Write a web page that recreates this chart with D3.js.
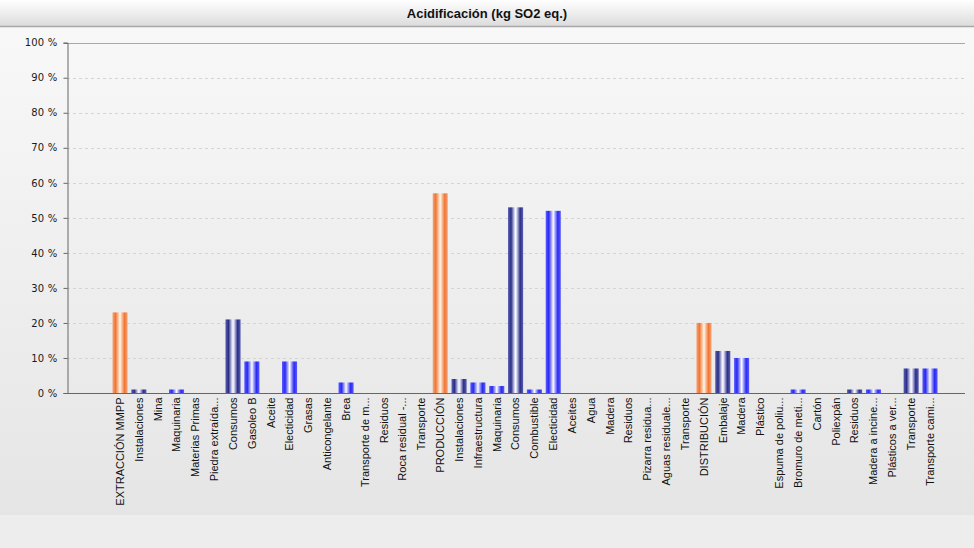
<!DOCTYPE html>
<html><head><meta charset="utf-8">
<script src="https://cdn.jsdelivr.net/npm/d3@7"></script>
<style>body{margin:0;background:#fff}svg{display:block}</style>
</head><body>
<script>
const title = "Acidificación (kg SO2 eq.)";
const categories = ["EXTRACCIÓN MMPP","Instalaciones","Mina","Maquinaria","Materias Primas","Piedra extraída...","Consumos","Gasoleo B","Aceite","Electicidad","Grasas","Anticongelante","Brea","Transporte de m...","Residuos","Roca residual -...","Transporte","PRODUCCIÓN","Instalaciones","Infraestructura","Maquinaria","Consumos","Combustible","Electicidad","Aceites","Agua","Madera","Residuos","Pizarra residua...","Aguas residuale...","Transporte","DISTRIBUCIÓN","Embalaje","Madera","Plástico","Espuma de poliu...","Bromuro de meti...","Cartón","Poliexpán","Residuos","Madera a incine...","Plásticos a ver...","Transporte","Transporte cami..."];
const values = [23,1,0,1,0,0,21,9,0,9,0,0,3,0,0,0,0,57,4,3,2,53,1,52,0,0,0,0,0,0,0,20,12,10,0,0,1,0,0,1,1,0,7,7];
const levels = [1,2,3,3,2,3,2,3,3,3,3,3,3,2,2,3,2,1,2,3,3,2,3,3,3,3,3,2,3,3,2,1,2,3,3,3,3,3,3,2,3,3,2,3];
const yTicks = [0,10,20,30,40,50,60,70,80,90,100];
const yTickLabels = ["0 %","10 %","20 %","30 %","40 %","50 %","60 %","70 %","80 %","90 %","100 %"];

const W = 974, H = 548;
const svg = d3.select("body").append("svg").attr("width", W).attr("height", H);
const defs = svg.append("defs");

const bg = defs.append("linearGradient").attr("id","bg").attr("x1",0).attr("y1",0).attr("x2",0).attr("y2",1);
bg.append("stop").attr("offset","0%").attr("stop-color","#f8f8f8");
bg.append("stop").attr("offset","100%").attr("stop-color","#e5e5e5");
const hd = defs.append("linearGradient").attr("id","hd").attr("x1",0).attr("y1",0).attr("x2",0).attr("y2",1);
hd.append("stop").attr("offset","0%").attr("stop-color","#ffffff");
hd.append("stop").attr("offset","100%").attr("stop-color","#dcdcdc");

function barGrad(id, edge, dark, light, mid) {
  const g = defs.append("linearGradient").attr("id", id).attr("x1",0).attr("y1",0).attr("x2",1).attr("y2",0);
  [[0,edge],[0.2,dark],[0.4,light],[0.5,mid],[0.6,light],[0.8,dark],[1,edge]].forEach(([o,c]) =>
    g.append("stop").attr("offset", o).attr("stop-color", c));
}
barGrad("g1", "#f6a577", "#f07534", "#fbcaa8", "#fff6ee");
barGrad("g2", "#585db0", "#2b2f87", "#c4c4e6", "#ffffff");
barGrad("g3", "#5a5aff", "#2a2af0", "#b4b4ff", "#ffffff");

// backgrounds
svg.append("rect").attr("x",0).attr("y",27).attr("width",W).attr("height",488).attr("fill","url(#bg)");
svg.append("rect").attr("x",0).attr("y",515).attr("width",W).attr("height",H-515).attr("fill","#ededed");
svg.append("rect").attr("x",0).attr("y",0).attr("width",W).attr("height",26).attr("fill","url(#hd)");
svg.append("line").attr("x1",0).attr("x2",W).attr("y1",26.5).attr("y2",26.5).attr("stroke","#a8a8a8").attr("stroke-width",1.5);

svg.append("text").attr("x",487).attr("y",18).attr("text-anchor","middle")
  .attr("font-family","'Liberation Sans Narrow','Liberation Sans',Arial,sans-serif")
  .attr("font-weight","bold").attr("font-size",13).attr("fill","#111").text(title);

const plotL = 67, plotR = 965, plotT = 42.7, plotB = 393;
const y = d3.scaleLinear().domain([0,100]).range([plotB, plotT]);
const x = d3.scaleBand().domain(d3.range(categories.length)).range([110.6, 939.4]).paddingInner(0.2).paddingOuter(0.1);

// gridlines
svg.append("g").selectAll("line").data(yTicks.filter(d => d > 0)).join("line")
  .attr("x1", plotL).attr("x2", plotR)
  .attr("y1", d => Math.round(y(d)) + 0.5).attr("y2", d => Math.round(y(d)) + 0.5)
  .attr("stroke", d => d === 100 ? "#a8a8a8" : "#d4d4d4")
  .attr("stroke-dasharray", d => d === 100 ? null : "3,3");

// y axis
const yAxis = d3.axisLeft(y).tickValues(yTicks).tickFormat((d,i) => yTickLabels[i]).tickSize(4).tickPadding(6);
const ya = svg.append("g").attr("transform", `translate(${plotL + 0.5},0)`).call(yAxis);
ya.select(".domain").attr("stroke","#666");
ya.selectAll(".tick line").attr("stroke","#666");
ya.selectAll(".tick text").attr("font-family","'DejaVu Sans',Verdana,sans-serif").attr("font-size",10)
  .attr("letter-spacing","0.2px").attr("fill","#1a1a1a");

// bars
const colorFor = l => l === 1 ? "url(#g1)" : (l === 2 ? "url(#g2)" : "url(#g3)");
svg.append("g").selectAll("rect").data(values.map((v,i) => ({v,i}))).join("rect")
  .attr("x", d => x(d.i)).attr("width", x.bandwidth())
  .attr("y", d => y(d.v)).attr("height", d => plotB - y(d.v))
  .attr("fill", d => colorFor(levels[d.i]));

// x axis
const xAxis = d3.axisBottom(x).tickFormat(i => categories[i]).tickSize(0).tickPadding(0);
const xa = svg.append("g").attr("transform", `translate(0,${plotB + 0.5})`).call(xAxis);
xa.select(".domain").remove();
xa.selectAll(".tick text")
  .attr("font-family","'Liberation Sans',Arial,sans-serif").attr("font-size",11).attr("fill","#111")
  .attr("text-anchor","end").attr("dy","0.35em")
  .attr("transform","translate(0,4) rotate(-90)").attr("x",0).attr("y",0);
svg.append("line").attr("x1", plotL).attr("x2", plotR).attr("y1", plotB + 0.5).attr("y2", plotB + 0.5).attr("stroke","#666");
</script>
</body></html>
